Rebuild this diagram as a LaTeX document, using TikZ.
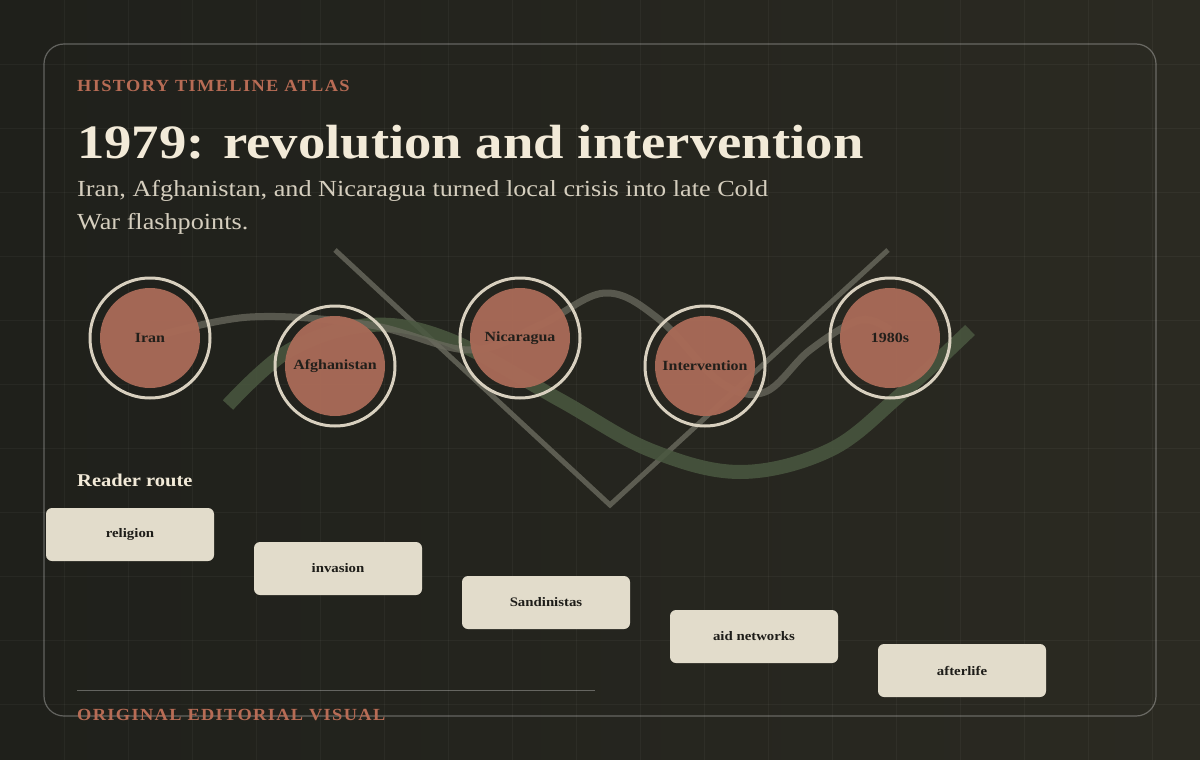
\documentclass[tikz,border=0pt]{standalone}
\usepackage{fontspec}
\setmainfont{Liberation Serif}[FakeStretch=1.14]
\newfontfamily\spaced{Liberation Serif}[LetterSpace=8,FakeStretch=1.08]
\begin{document}
\begin{tikzpicture}[x=1pt,y=-1pt,
  bubble/.style={circle,fill=terra,minimum size=100pt,inner sep=0pt,font=\bfseries\fontsize{14}{16}\selectfont,text=ink},
  ringc/.style={draw=ringcol,line width=3pt},
  card/.style={rounded corners=6pt,fill=cardcol,minimum width=168pt,minimum height=53pt,inner sep=0pt,font=\bfseries\fontsize{13}{15}\selectfont,text=ink}]
\definecolor{bgA}{HTML}{1F201B}
\definecolor{bgB}{HTML}{2B2A22}
\definecolor{terra}{HTML}{A86A57}
\definecolor{ink}{HTML}{1E1D19}
\definecolor{ringcol}{HTML}{D8D0BF}
\definecolor{cardcol}{HTML}{E2DCCB}
\definecolor{cream}{HTML}{F2EAD8}
\definecolor{rust}{HTML}{B86C55}
\definecolor{greenl}{HTML}{4A5840}
\definecolor{grayl}{HTML}{6A6A5E}
\shade[left color=bgA,right color=bgB] (0,0) rectangle (1200,760);
\useasboundingbox (0,0) rectangle (1200,760);
\foreach \i in {1,...,18} \draw[white,opacity=0.04,line width=0.8pt] (\i*64,0) -- (\i*64,760);
\foreach \i in {1,...,11} \draw[white,opacity=0.04,line width=0.8pt] (0,\i*64) -- (1200,\i*64);
\draw[white,opacity=0.3,line width=1.2pt,rounded corners=20pt] (44,44) rectangle (1156,716);
\node[anchor=base west,inner sep=0pt,text=rust,font=\spaced\bfseries\fontsize{17}{20}\selectfont] (kick) at (77,92) {HISTORY TIMELINE ATLAS};
\node[anchor=base west,inner sep=0pt,text=cream,font=\bfseries\fontsize{48}{55}\selectfont] (title) at (77,158) {1979: revolution and intervention};
\node[anchor=north west,inner sep=0pt,text=cream!88!black,font=\fontsize{23}{33}\selectfont,align=left] (sub) at (77,180) {Iran, Afghanistan, and Nicaragua turned local crisis into late Cold\\War flashpoints.};
% lines
\draw[grayl,opacity=0.8,line width=5pt] (335,250) -- (610,505) -- (888,250);
\draw[greenl,opacity=0.85,line width=14pt] plot[smooth,tension=0.6] coordinates {(228,405) (290,350) (370,325) (450,340) (560,400) (650,450) (740,472) (830,450) (900,395) (970,330)};
\draw[grayl,opacity=0.75,line width=7pt] plot[smooth,tension=0.6] coordinates {(150,338) (250,317) (370,325) (470,350) (540,325) (605,293) (660,320) (720,382) (765,392) (810,350) (860,320) (890,330)};
% bubbles
\foreach \n/\t/\x/\y in {iran/Iran/150/338,afgh/Afghanistan/335/366,nica/Nicaragua/520/338,inter/Intervention/705/366,eighties/1980s/890/338}{
  \node[bubble,opacity=0.97] (\n) at (\x,\y) {\t};
  \draw[ringc] (\n.center) circle (60pt);
}
\node[anchor=base west,inner sep=0pt,text=cream,font=\bfseries\fontsize{18}{22}\selectfont] (route) at (77,486) {Reader route};
\node[card] (c1) at (130,534.5) {religion};
\node[card] (c2) at (338,568.5) {invasion};
\node[card] (c3) at (546,602.5) {Sandinistas};
\node[card] (c4) at (754,636.5) {aid networks};
\node[card] (c5) at (962,670.5) {afterlife};
\coordinate (fa) at (77,690); \coordinate (fb) at (595,690);
\draw[white,opacity=0.3,line width=1pt] (fa) -- (fb);
\node[anchor=base west,inner sep=0pt,text=rust,font=\spaced\bfseries\fontsize{17}{20}\selectfont] (foot) at (77,720) {ORIGINAL EDITORIAL VISUAL};
\end{tikzpicture}
\end{document}
